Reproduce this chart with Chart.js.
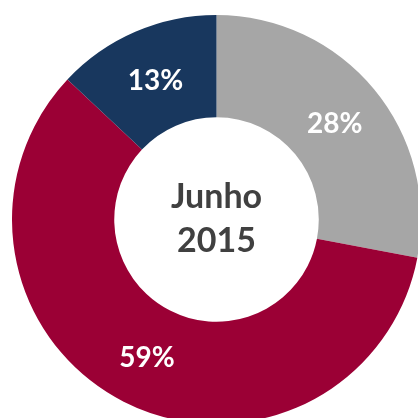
<!DOCTYPE html>
<html>
<head>
<meta charset="utf-8">
<script src="https://cdn.jsdelivr.net/npm/chart.js@4"></script>
<style>
  html, body { margin: 0; padding: 0; background: #fff; overflow: hidden; width: 418px; height: 418px; }
  #wrap { position: absolute; left: 12px; top: 15px; width: 409px; height: 409px; }
</style>
</head>
<body>
<div id="wrap"><canvas id="chart" width="409" height="409"></canvas></div>
<script>
const labels = ['Cinza', 'Vermelho', 'Azul'];
const values = [28, 59, 13];
const colors = ['#A6A6A6', '#9B0035', '#18375E'];
const centerLines = ['Junho', '2015'];

// Draw the percentage inside each slice and the title in the hole
const sliceLabels = {
    id: 'sliceLabels',
    afterDatasetsDraw(chart) {
        const ctx = chart.ctx;
        const meta = chart.getDatasetMeta(0);
        ctx.save();
        ctx.fillStyle = '#ffffff';
        ctx.font = 'bold 28px Lato';
        ctx.textAlign = 'center';
        ctx.textBaseline = 'middle';
        meta.data.forEach((arc, i) => {
            const p = arc.tooltipPosition();
            ctx.fillText(values[i] + '%', p.x, p.y + 2);
        });
        const c = meta.data[0];
        ctx.fillStyle = '#404040';
        ctx.font = 'bold 34px Lato';
        ctx.fillText(centerLines[0], c.x, c.y - 22);
        ctx.fillText(centerLines[1], c.x, c.y + 22);
        ctx.restore();
    }
};

new Chart(document.getElementById('chart'), {
    type: 'doughnut',
    data: {
        labels: labels,
        datasets: [{
            data: values,
            backgroundColor: colors,
            borderWidth: 0,
        }]
    },
    options: {
        responsive: false,
        animation: false,
        cutout: '50%',
        layout: { padding: 0 },
        plugins: {
            legend: { display: false },
            tooltip: { enabled: false },
        },
    },
    plugins: [sliceLabels]
});
</script>
</body>
</html>
